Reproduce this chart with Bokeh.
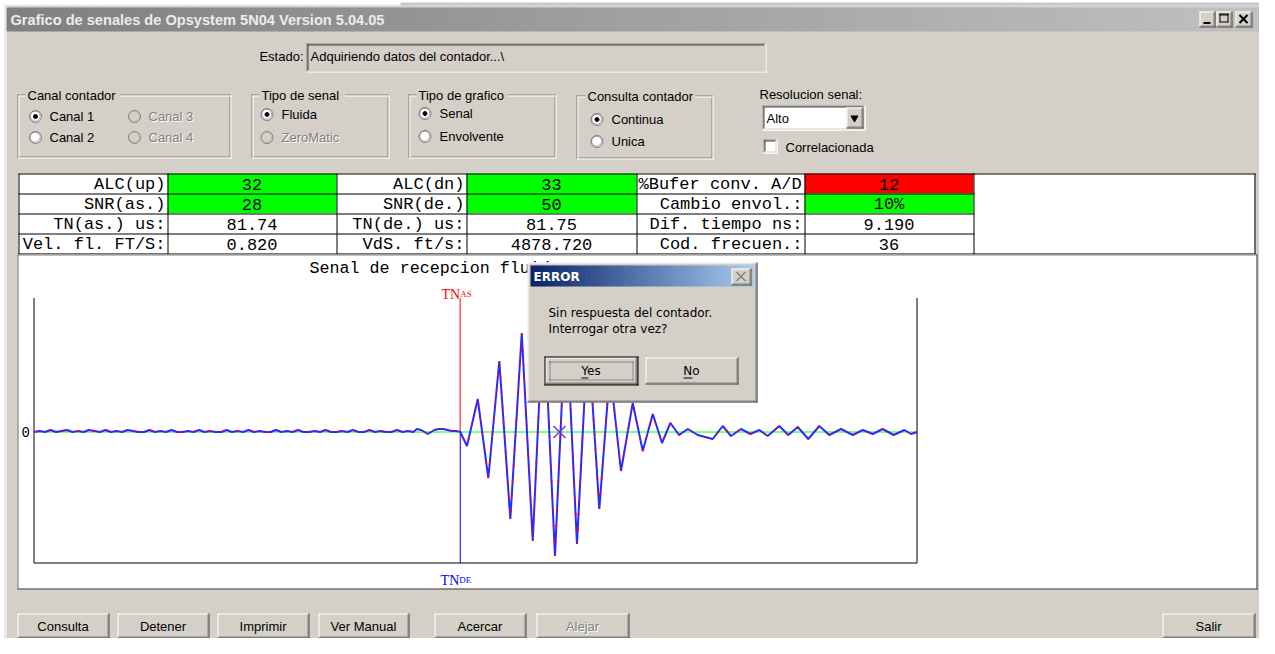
import numpy as np
from bokeh.plotting import figure
from bokeh.models import Range1d
from bokeh.core.properties import value
from bokeh.embed import file_html
from bokeh.resources import INLINE

# ---------------- data ----------------
window_title = "Grafico de senales de Opsystem  5N04 Version  5.04.05"
estado_text = "Adquiriendo datos del contador...\\"

label_col1 = ["ALC(up)", "SNR(as.)", "TN(as.) us:", "Vel. fl. FT/S:"]
value_col1 = ["32", "28", "81.74", "0.820"]
state_col1 = ["ok", "ok", "", ""]
label_col2 = ["ALC(dn)", "SNR(de.)", "TN(de.) us:", "VdS. ft/s:"]
value_col2 = ["33", "50", "81.75", "4878.720"]
state_col2 = ["ok", "ok", "", ""]
label_col3 = ["%Bufer conv. A/D", "Cambio envol.:", "Dif. tiempo ns:", "Cod. frecuen.:"]
value_col3 = ["12", "10%", "9.190", "36"]
state_col3 = ["alarm", "ok", "", ""]

tn_as_us = 81.74
tn_de_us = 81.75

# received signal (time in us, amplitude in counts)
t_min, t_max = 43.0, 123.27
amp_min, amp_max = -131, 134
noise_start_us = 43.0
noise_step_us = 0.5
noise_amp = [0, 1, 0, 2, 0, 1, 2, 0, 1, 0, 2, 1, 0, 2, 0, 1, 0, 2, 1, 0,
             0, 2, 0, 1, 0, 2, 0, 0, 1, 0, 2, 0, 1, 0, 0, 2, 0, 1, 0, 2,
             0, 1, 0, 0, 2, 0, 1, 0, 2, 0, 0, 1, 0, 2, 0, 0, 1, 0, 2, 0,
             0, 2, 0, 1, 0, 0, 2, 0, 1, 0]
signal_t = [77.8, 78.2, 78.5, 78.8, 79.1, 79.4, 79.8, 80.2, 80.6, 81.0, 81.4, 81.75,
            82.36, 83.34, 84.30, 85.30, 86.30, 87.34, 88.34, 89.32, 90.36, 91.36, 92.36,
            93.36, 94.39, 95.36, 96.36, 97.43, 98.34, 99.25, 100.09, 100.85, 101.64,
            102.43, 103.34, 104.70, 105.61, 106.36, 107.27, 108.12, 108.94, 109.70, 110.75,
            111.57, 112.43, 113.39, 114.39, 115.30, 116.36, 117.43, 118.34, 119.25, 120.15,
            121.15, 122.12, 122.73, 123.27]
signal_amp = [3, 2, 0, -2, 0, 2, 3, 3, 2, 1, 1, 0,
              -14, 33, -46, 71, -87, 99, -109, 125, -124, 122, -112,
              100, -77, 62, -39, 29, -19, 18, -11, 9, -3,
              3, -3, -7, 6, -4, 3, -2, 2, -4, 6,
              -3, 5, -7, 6, -3, 3, -3, 2, -2, 3,
              -3, 2, -2, 0]
cross_t = [90.77]
cross_amp = [0]

bottom_buttons = ["Consulta", "Detener", "Imprimir", "Ver Manual", "Acercar", "Alejar"]
bottom_enabled = [True, True, True, True, True, False]

# ---------------- styles / layout ----------------
BG = "#d4d0c8"
UI = "Liberation Sans"
MONO = "Liberation Mono"
SERIF = "Liberation Serif"
DLG = "DejaVu Sans"

FX0, FX1, FY0, FY1 = 0, 1259, 0, 638

p = figure(width=FX1 - FX0, height=FY1 - FY0, x_range=Range1d(FX0, FX1),
           y_range=Range1d(FY1, FY0), output_backend="svg", toolbar_location=None,
           tools="", min_border=0, x_axis_location=None, y_axis_location=None,
           background_fill_color="#ffffff", border_fill_color="white", outline_line_color=None)
p.grid.visible = False


def fill(x0, y0, x1, y1, color):
    p.quad(left=[x0], right=[x1], top=[y0], bottom=[y1], fill_color=color, line_color=None)


def hl(y, xa, xb, c):
    return (xa, y + 0.5, xb + 1, y + 0.5, c)


def vl(x, ya, yb, c):
    return (x + 0.5, ya, x + 0.5, yb + 1, c)


def segs(items, width=1, dash="solid"):
    if not items:
        return
    p.segment(x0=[i[0] for i in items], y0=[i[1] for i in items],
              x1=[i[2] for i in items], y1=[i[3] for i in items],
              line_color=[i[4] for i in items], line_width=width, line_dash=dash)


def outline(x0, y0, x1, y1, c):
    return [hl(y0, x0, x1, c), hl(y1, x0, x1, c), vl(x0, y0, y1, c), vl(x1, y0, y1, c)]


def raised(x0, y0, x1, y1, face=BG, dark_outer="#404040"):
    fill(x0, y0, x1 + 1, y1 + 1, face)
    segs([hl(y0, x0, x1 - 1, "#ffffff"), vl(x0, y0, y1 - 1, "#ffffff"),
          hl(y1, x0, x1, dark_outer), vl(x1, y0, y1, dark_outer),
          hl(y1 - 1, x0 + 1, x1 - 1, "#808080"), vl(x1 - 1, y0 + 1, y1 - 1, "#808080")])


def sunken(x0, y0, x1, y1, face="#ffffff"):
    fill(x0, y0, x1 + 1, y1 + 1, face)
    segs([hl(y0, x0, x1 - 1, "#808080"), vl(x0, y0, y1 - 1, "#808080"),
          hl(y0 + 1, x0 + 1, x1 - 2, "#404040"), vl(x0 + 1, y0 + 1, y1 - 2, "#404040"),
          hl(y1, x0, x1, "#ffffff"), vl(x1, y0, y1, "#ffffff"),
          hl(y1 - 1, x0 + 1, x1 - 1, BG), vl(x1 - 1, y0 + 1, y1 - 1, BG)])


def txt(x, y, s, size=13, font=UI, color="black", align="left", baseline="middle",
        style="normal", **kw):
    p.text(x=[x], y=[y], text=[s], text_font=value(font), text_font_size=value(f"{size}px"),
           text_color=color, text_align=align, text_baseline=baseline,
           text_font_style=style, **kw)


def gradient(x0, y0, x1, y1, c0, c1, n=60):
    a = np.array([int(c0[i:i + 2], 16) for i in (1, 3, 5)], float)
    b = np.array([int(c1[i:i + 2], 16) for i in (1, 3, 5)], float)
    edges = np.linspace(x0, x1, n + 1)
    cols = []
    for k in range(n):
        f = k / (n - 1)
        c = (a + (b - a) * f).round().astype(int)
        cols.append("#%02x%02x%02x" % tuple(c))
    p.quad(left=edges[:-1], right=edges[1:] + 0.6, top=[y0] * n, bottom=[y1] * n,
           fill_color=cols, line_color=None)


def radio(cx, cy, checked, enabled=True):
    p.scatter([cx], [cy], size=12, fill_color="#ffffff" if enabled else BG,
              line_color="#808080", line_width=1)
    p.scatter([cx - 0.3], [cy - 0.3], size=10, fill_color=None,
              line_color="#404040" if enabled else "#a0a0a0", line_width=0.8, line_alpha=0.6)
    if checked:
        p.scatter([cx], [cy], size=4, fill_color="black", line_color="black")


def disabled_text(x, y, s, **kw):
    txt(x + 1, y + 1, s, color="#ffffff", **kw)
    txt(x, y, s, color="#808080", **kw)


def groupbox(x0, y0, x1, y1, title, gap):
    segs(outline(x0, y0, x1 - 1, y1 - 1, "#808080") + outline(x0 + 1, y0 + 1, x1, y1, "#ffffff"))
    fill(gap[0], y0 - 6, gap[1], y0 + 4, BG)
    txt(gap[0] + 2, y0 + 0.5, title)


# ---------------- window frame ----------------
fill(4, 5, 1259, 638, BG)
segs([hl(4, 4, 1258, "#e8e8e8"), vl(4, 4, 637, "#e8e8e8"), vl(5, 5, 637, "#ffffff")])
fill(400, 2, 1259, 5, "#c4c8d0")

# ---------------- window title bar ----------------
gradient(6, 7, 1259, 31, "#808080", "#c0c0c0", n=80)
txt(10, 19.5, window_title, size=14.6, font=UI, color="#ececec", style="bold")
for bx in (1199, 1216):
    raised(bx, 11, bx + 15, 26)
segs([(1203, 22.5, 1210, 22.5, "black")], width=2)
segs(outline(1219, 13, 1227, 21, "black") + [hl(14, 1219, 1227, "black")])
raised(1235, 11, 1251, 26)
segs([(1239, 14.5, 1247, 22.5, "black"), (1247, 14.5, 1239, 22.5, "black")], width=2)

# ---------------- estado ----------------
txt(303, 56, "Estado:", align="right")
sunken(306, 43, 765, 71, face=BG)
txt(310, 56, estado_text)

# ---------------- group boxes ----------------
groupbox(17, 94, 230, 157, "Canal contador", (25, 120))
radio(35, 116, True);  txt(49, 116, "Canal 1")
radio(35, 137, False); txt(49, 137, "Canal 2")
radio(134, 116, False, False); disabled_text(148, 116, "Canal 3")
radio(134, 137, False, False); disabled_text(148, 137, "Canal 4")

groupbox(251, 94, 388, 157, "Tipo de senal", (259, 345))
radio(266.5, 114, True); txt(281, 114, "Fluida")
radio(266.5, 137, False, False); disabled_text(281, 137, "ZeroMatic")

groupbox(408, 94, 555, 157, "Tipo de grafico", (416, 507))
radio(424.5, 113, True); txt(439, 113, "Senal")
radio(424.5, 136, False); txt(439, 136, "Envolvente")

groupbox(576, 95, 712, 158, "Consulta contador", (585, 695))
radio(596.5, 119, True); txt(611, 119, "Continua")
radio(596.5, 141, False); txt(611, 141, "Unica")

txt(759, 94, "Resolucion senal:")
sunken(762, 105, 864, 129)
txt(766, 118, "Alto")
raised(846, 107, 862, 127)
p.scatter([854], [117.5], marker="inverted_triangle", size=7, fill_color="black", line_color="black")
sunken(763, 139, 776, 152)
txt(785, 147, "Correlacionada")

# ---------------- data table ----------------
fill(18, 173, 1254, 253, "#ffffff")
col_x = [18, 167, 336, 466, 636, 804, 973]
row_y = [173, 193, 213, 233, 253]
state_color = {"ok": "#00ff00", "alarm": "#ff0000", "": "#ffffff"}
labels = [label_col1, label_col2, label_col3]
values = [value_col1, value_col2, value_col3]
states = [state_col1, state_col2, state_col3]
for c in range(3):
    for r in range(4):
        fill(col_x[2 * c + 1], row_y[r], col_x[2 * c + 2], row_y[r + 1],
             state_color[states[c][r]])
tl = []
for y in row_y:
    tl.append(hl(y, 18, 973, "black"))
for x in col_x:
    tl.append(vl(x, 173, 253, "black"))
tl += [hl(173, 973, 1254, "black"), hl(253, 973, 1254, "black"), vl(1254, 173, 253, "black")]
segs(tl)
for c in range(3):
    for r in range(4):
        yc = (row_y[r] + row_y[r + 1]) / 2 + 1
        lab = labels[c][r]
        if len(lab) >= 16:
            txt(col_x[2 * c] + 2, yc, lab, size=17, font=MONO, align="left")
        else:
            txt(col_x[2 * c + 1] - 2, yc, lab, size=17, font=MONO, align="right")
        txt((col_x[2 * c + 1] + col_x[2 * c + 2]) / 2, yc, values[c][r], size=17,
            font=MONO, align="center")

# ---------------- signal panel ----------------
fill(18, 254, 1256, 588, "#ffffff")
segs([hl(254, 17, 1256, "#808080"), vl(17, 254, 588, "#808080"),
      hl(588, 17, 1256, "#404040"), vl(1256, 254, 588, "#404040")])

PX_L, PX_R, PX_T, PX_B = 33.5, 916.5, 297.5, 562.5
sx = (PX_R - PX_L) / (t_max - t_min)
sy = (PX_B - PX_T) / (amp_max - amp_min)
p.extra_x_ranges = {"t": Range1d(t_min - (PX_L - FX0) / sx, t_max + (FX1 - PX_R) / sx)}
p.extra_y_ranges = {"a": Range1d(amp_min - (FY1 - PX_B) / sy, amp_max + (PX_T - FY0) / sy)}
W = dict(x_range_name="t", y_range_name="a")

txt(309, 268, "Senal de recepcion fluida", size=16.7, font=MONO)

# axes of the signal chart
p.segment(x0=[t_min, t_max, t_min], y0=[amp_min, amp_min, amp_min],
          x1=[t_min, t_max, t_max], y1=[amp_max, amp_max, amp_min],
          line_color="black", line_width=1, **W)
p.text(x=[t_min], y=[0], text=["0"], text_font=value(MONO), text_font_size=value("14px"),
       text_align="right", text_baseline="middle", x_offset=-4, text_color="black", **W)
# zero line
p.segment(x0=[t_min], y0=[0], x1=[t_max], y1=[0], line_color="#00ff00", line_width=1, **W)
# TN markers
p.segment(x0=[tn_as_us], y0=[0], x1=[tn_as_us], y1=[amp_max], line_color="#ff0000", line_width=1, **W)
p.segment(x0=[tn_de_us], y0=[amp_min], x1=[tn_de_us], y1=[0], line_color="#0000ff", line_width=1, **W)
p.text(x=[tn_as_us], y=[amp_max], text=["TN"], text_font=value(SERIF), text_font_size=value("14px"),
       text_align="right", text_baseline="alphabetic", y_offset=-4, text_color="#ff0000", **W)
p.text(x=[tn_as_us], y=[amp_max], text=["AS"], text_font=value(SERIF), text_font_size=value("9px"),
       text_align="left", text_baseline="alphabetic", y_offset=-4, text_color="#ff0000", **W)
p.text(x=[tn_de_us], y=[amp_min], text=["TN"], text_font=value(SERIF), text_font_size=value("14px"),
       text_align="right", text_baseline="alphabetic", y_offset=17, x_offset=-1,
       text_color="#0000ff", **W)
p.text(x=[tn_de_us], y=[amp_min], text=["DE"], text_font=value(SERIF), text_font_size=value("9px"),
       text_align="left", text_baseline="alphabetic", y_offset=17, x_offset=-1,
       text_color="#0000ff", **W)

# waveform
noise_t = noise_start_us + noise_step_us * np.arange(len(noise_amp))
wave_t = list(noise_t) + signal_t
wave_a = noise_amp + signal_amp
p.line(wave_t, wave_a, line_color="#2a2aff", line_width=2, **W)
p.line(wave_t, wave_a, line_color="#ff0000", line_width=1.6, line_dash="2 13", **W)
p.scatter(cross_t, cross_amp, marker="x", size=17, line_color="#8a2be2", line_width=1.5, **W)

# ---------------- error dialog ----------------
raised(527, 262, 756, 401)
gradient(530, 265, 753, 286, "#0a246a", "#a6caf0", n=60)
txt(533, 276, "ERROR", size=12, font=DLG, color="#ffffff", style="bold")
raised(731, 268, 750, 284)
segs([(736, 271.5, 745, 280.5, "#808080"), (745, 271.5, 736, 280.5, "#808080")], width=1.5)
txt(548, 312, "Sin respuesta del contador.", size=12, font=DLG)
txt(548, 328, "Interrogar otra vez?", size=12, font=DLG)
raised(545, 357, 636, 383)
segs(outline(544, 356, 637, 384, "black"))
segs(outline(549, 361, 632, 379, "#404040"), dash="1 1")
txt(590.5, 370, "Yes", size=12, font=DLG, align="center")
segs([hl(377, 581, 587, "black")])
raised(645, 357, 737, 383)
txt(691, 370, "No", size=12, font=DLG, align="center")
segs([hl(377, 683, 691, "black")])

# ---------------- bottom buttons ----------------
BTN_Y0, BTN_Y1 = 613, 637
btn_x = [(17, 108), (117, 208), (217, 308), (318, 408), (434, 525), (536, 628)]
for (x0, x1), lab, en in zip(btn_x, bottom_buttons, bottom_enabled):
    raised(x0, BTN_Y0, x1, BTN_Y1)
    if en:
        txt((x0 + x1) / 2, (BTN_Y0 + BTN_Y1) / 2 + 1, lab, align="center")
    else:
        disabled_text((x0 + x1) / 2, (BTN_Y0 + BTN_Y1) / 2 + 1, lab, align="center")
raised(1162, BTN_Y0, 1254, BTN_Y1)
txt(1208, (BTN_Y0 + BTN_Y1) / 2 + 1, "Salir", align="center")

open("out.html", "w").write(file_html(p, INLINE))
